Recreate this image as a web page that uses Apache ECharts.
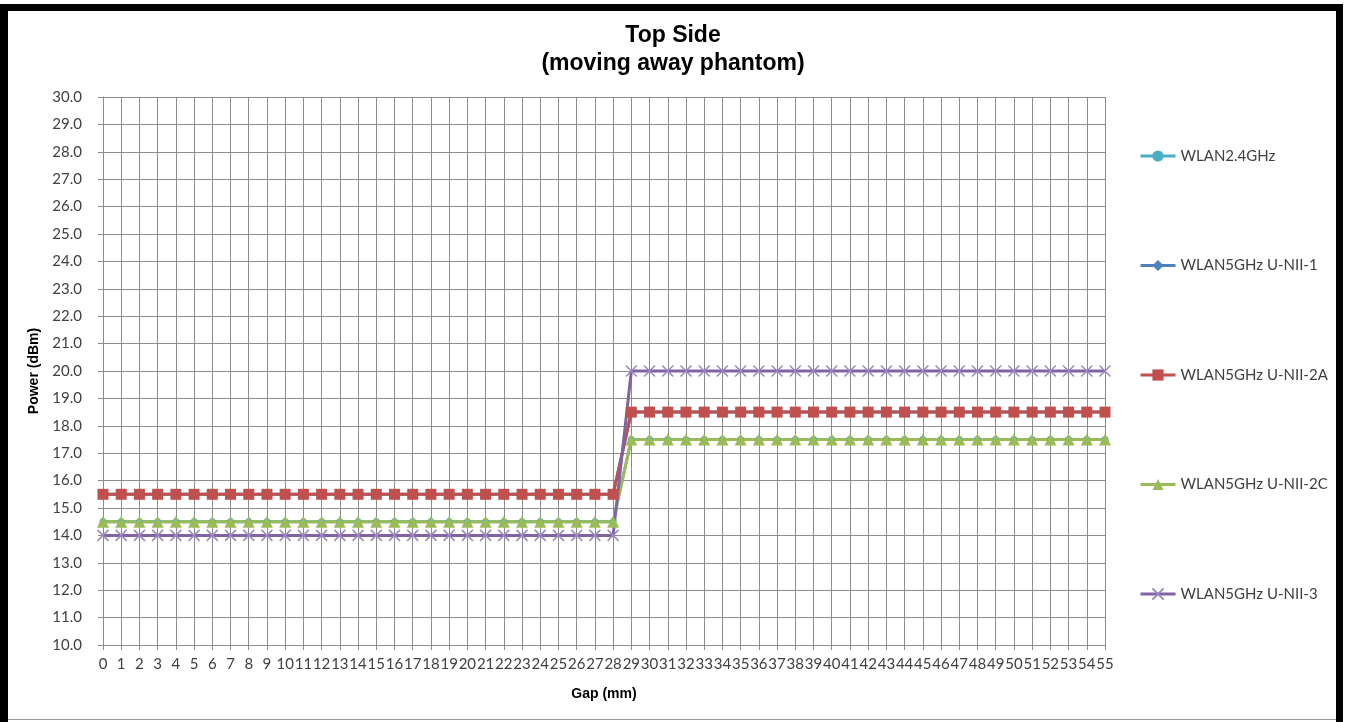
<!DOCTYPE html>
<html>
<head>
<meta charset="utf-8">
<title>Top Side (moving away phantom)</title>
<script src="https://cdn.jsdelivr.net/npm/echarts@6/dist/echarts.min.js"></script>
<style>
  html, body { margin: 0; padding: 0; background: #ffffff; }
  #chart { width: 1346px; height: 722px; }
</style>
</head>
<body>
<div id="chart"></div>
<script>
// Gap distances (mm)
const gaps = [
  0, 1, 2, 3, 4, 5, 6, 7, 8, 9, 10, 11, 12, 13, 14, 15, 16, 17, 18, 19,
  20, 21, 22, 23, 24, 25, 26, 27, 28, 29, 30, 31, 32, 33, 34, 35, 36, 37, 38, 39,
  40, 41, 42, 43, 44, 45, 46, 47, 48, 49, 50, 51, 52, 53, 54, 55
];

// Power (dBm) per band at each gap
const wlan24 = [
  14.5, 14.5, 14.5, 14.5, 14.5, 14.5, 14.5, 14.5, 14.5, 14.5, 14.5, 14.5, 14.5, 14.5, 14.5,
  14.5, 14.5, 14.5, 14.5, 14.5, 14.5, 14.5, 14.5, 14.5, 14.5, 14.5, 14.5, 14.5, 14.5,
  17.5, 17.5, 17.5, 17.5, 17.5, 17.5, 17.5, 17.5, 17.5, 17.5, 17.5, 17.5, 17.5, 17.5,
  17.5, 17.5, 17.5, 17.5, 17.5, 17.5, 17.5, 17.5, 17.5, 17.5, 17.5, 17.5, 17.5
];
const unii1 = [
  15.5, 15.5, 15.5, 15.5, 15.5, 15.5, 15.5, 15.5, 15.5, 15.5, 15.5, 15.5, 15.5, 15.5, 15.5,
  15.5, 15.5, 15.5, 15.5, 15.5, 15.5, 15.5, 15.5, 15.5, 15.5, 15.5, 15.5, 15.5, 15.5,
  18.5, 18.5, 18.5, 18.5, 18.5, 18.5, 18.5, 18.5, 18.5, 18.5, 18.5, 18.5, 18.5, 18.5,
  18.5, 18.5, 18.5, 18.5, 18.5, 18.5, 18.5, 18.5, 18.5, 18.5, 18.5, 18.5, 18.5
];
const unii2a = [
  15.5, 15.5, 15.5, 15.5, 15.5, 15.5, 15.5, 15.5, 15.5, 15.5, 15.5, 15.5, 15.5, 15.5, 15.5,
  15.5, 15.5, 15.5, 15.5, 15.5, 15.5, 15.5, 15.5, 15.5, 15.5, 15.5, 15.5, 15.5, 15.5,
  18.5, 18.5, 18.5, 18.5, 18.5, 18.5, 18.5, 18.5, 18.5, 18.5, 18.5, 18.5, 18.5, 18.5,
  18.5, 18.5, 18.5, 18.5, 18.5, 18.5, 18.5, 18.5, 18.5, 18.5, 18.5, 18.5, 18.5
];
const unii2c = [
  14.5, 14.5, 14.5, 14.5, 14.5, 14.5, 14.5, 14.5, 14.5, 14.5, 14.5, 14.5, 14.5, 14.5, 14.5,
  14.5, 14.5, 14.5, 14.5, 14.5, 14.5, 14.5, 14.5, 14.5, 14.5, 14.5, 14.5, 14.5, 14.5,
  17.5, 17.5, 17.5, 17.5, 17.5, 17.5, 17.5, 17.5, 17.5, 17.5, 17.5, 17.5, 17.5, 17.5,
  17.5, 17.5, 17.5, 17.5, 17.5, 17.5, 17.5, 17.5, 17.5, 17.5, 17.5, 17.5, 17.5
];
const unii3 = [
  14.0, 14.0, 14.0, 14.0, 14.0, 14.0, 14.0, 14.0, 14.0, 14.0, 14.0, 14.0, 14.0, 14.0, 14.0,
  14.0, 14.0, 14.0, 14.0, 14.0, 14.0, 14.0, 14.0, 14.0, 14.0, 14.0, 14.0, 14.0, 14.0,
  20.0, 20.0, 20.0, 20.0, 20.0, 20.0, 20.0, 20.0, 20.0, 20.0, 20.0, 20.0, 20.0, 20.0,
  20.0, 20.0, 20.0, 20.0, 20.0, 20.0, 20.0, 20.0, 20.0, 20.0, 20.0, 20.0, 20.0
];

const seriesNames = [
  'WLAN2.4GHz',
  'WLAN5GHz U-NII-1',
  'WLAN5GHz U-NII-2A',
  'WLAN5GHz U-NII-2C',
  'WLAN5GHz U-NII-3'
];

const labelFont = 'Lato, Open Sans, sans-serif';
const boldFont = 'Liberation Sans, Arial, sans-serif';
const gridColor = '#8c8c8c';
const crossPath = 'path://M0,0L10,10M10,0L0,10';

function lineSeries(name, data, color, symbol, size, extra) {
  return Object.assign({
    name: name,
    type: 'line',
    data: data,
    symbol: symbol,
    symbolSize: size,
    color: color,
    lineStyle: { width: 3, color: color },
    itemStyle: { color: color },
    animation: false
  }, extra || {});
}

const chart = echarts.init(document.getElementById('chart'), null, { renderer: 'canvas' });

chart.setOption({
  backgroundColor: '#ffffff',
  animation: false,
  title: {
    text: 'Top Side\n(moving away phantom)',
    left: 'center',
    top: 17,
    textStyle: {
      fontFamily: boldFont,
      fontWeight: 'bold',
      fontSize: 23,
      lineHeight: 28,
      color: '#000000'
    }
  },
  graphic: [
    // frame around the chart
    { type: 'rect', shape: { x: 0, y: 4, width: 8, height: 718 }, style: { fill: '#000000' }, silent: true },
    { type: 'rect', shape: { x: 0, y: 4, width: 1343, height: 7 }, style: { fill: '#000000' }, silent: true },
    { type: 'rect', shape: { x: 1336, y: 4, width: 7, height: 718 }, style: { fill: '#000000' }, silent: true },
    { type: 'rect', shape: { x: 8, y: 719, width: 1328, height: 1 }, style: { fill: '#9a9a9a' }, silent: true }
  ],
  legend: {
    orient: 'vertical',
    left: 1139,
    top: 147,
    padding: 0,
    itemGap: 91.5,
    itemWidth: 35,
    itemHeight: 14,
    lineStyle: { width: 3 },
    textStyle: { fontFamily: labelFont, fontSize: 15, color: '#404040', lineHeight: 18 },
    data: seriesNames
  },
  grid: {
    left: 103,
    right: 241,
    top: 97,
    bottom: 77,
    containLabel: false
  },
  xAxis: {
    type: 'category',
    data: gaps,
    boundaryGap: false,
    name: 'Gap (mm)',
    nameLocation: 'middle',
    nameGap: 42,
    nameTextStyle: { fontFamily: boldFont, fontWeight: 'bold', fontSize: 14, color: '#000000' },
    axisLine: { lineStyle: { color: gridColor, width: 1 } },
    axisTick: { show: true, inside: false, length: 5, interval: 0, alignWithLabel: true, lineStyle: { color: gridColor } },
    axisLabel: { interval: 0, margin: 12, fontFamily: labelFont, fontSize: 15, color: '#404040' },
    splitLine: { show: true, interval: 0, lineStyle: { color: gridColor, width: 1 } }
  },
  yAxis: {
    type: 'value',
    min: 10,
    max: 30,
    interval: 1,
    name: 'Power (dBm)',
    nameLocation: 'middle',
    nameGap: 60,
    nameRotate: 90,
    nameTextStyle: { fontFamily: boldFont, fontWeight: 'bold', fontSize: 14, color: '#000000' },
    axisLine: { show: true, lineStyle: { color: gridColor, width: 1 } },
    axisTick: { show: true, inside: false, length: 5, lineStyle: { color: gridColor } },
    axisLabel: {
      margin: 21,
      fontFamily: labelFont,
      fontSize: 15,
      color: '#404040',
      formatter: function (v) { return v.toFixed(1); }
    },
    splitLine: { show: true, lineStyle: { color: gridColor, width: 1 } }
  },
  series: [
    lineSeries(seriesNames[0], wlan24, '#4BACC6', 'circle', 7),
    lineSeries(seriesNames[1], unii1, '#4F81BD', 'diamond', 9),
    lineSeries(seriesNames[2], unii2a, '#C0504D', 'rect', 11),
    lineSeries(seriesNames[3], unii2c, '#9BBB59', 'triangle', 12),
    lineSeries(seriesNames[4], unii3, '#8064A2', crossPath, 11, {
      itemStyle: { color: 'rgba(0,0,0,0)', borderColor: '#9C88C0', borderWidth: 1.5 }
    })
  ]
});
</script>
</body>
</html>
